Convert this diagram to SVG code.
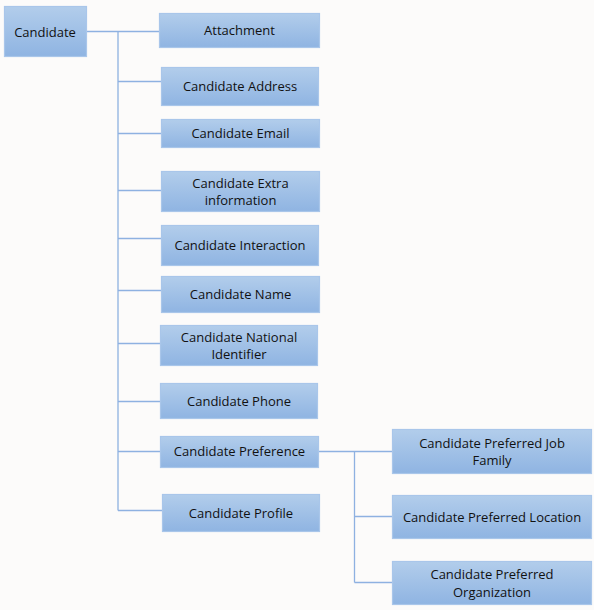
<svg xmlns="http://www.w3.org/2000/svg" width="594" height="610" viewBox="0 0 594 610">
<defs>
<linearGradient id="g" x1="0" y1="0" x2="0" y2="1">
<stop offset="0" stop-color="#b2cdeb"/>
<stop offset="1" stop-color="#8fb4e2"/>
</linearGradient>
<style>
.n rect{fill:url(#g);stroke:#a9c6ea;stroke-width:1.2}
.n text{font-family:"Open Sans","Noto Sans",sans-serif;font-size:13px;fill:#111;text-anchor:middle}
.c path{fill:none;stroke:#8eb1e1;stroke-width:1.3}
</style>
</defs>
<rect width="594" height="610" fill="#fcfbfa"/>
<g class="c">
<path d="M86 31.5H159M118 31.5V510.5M118 81.5H161M118 133.5H161M118 190.5H161M118 238.5H161M118 290.5H161M118 343.5H160M118 401.5H160M118 451.5H160M118 510.5H162"/>
<path d="M318 451.5H392M354.5 451.5V582.5M354.5 516.5H392M354.5 582.5H392"/>
</g>
<g class="n" id="candidate"><rect x="4.5" y="6.5" width="82" height="50"/><text x="45" y="36.5">Candidate</text></g>
<g class="n" id="attachment"><rect x="159.5" y="13.5" width="160" height="34"/><text x="239.5" y="35">Attachment</text></g>
<g class="n" id="address"><rect x="161.5" y="67.5" width="157" height="38"/><text x="240" y="91">Candidate Address</text></g>
<g class="n" id="email"><rect x="161.5" y="119.5" width="158" height="28"/><text x="240.5" y="138">Candidate Email</text></g>
<g class="n" id="extra"><rect x="161.5" y="171.5" width="158" height="40"/><text x="240.5" y="188">Candidate Extra</text><text x="240.5" y="205">information</text></g>
<g class="n" id="interaction"><rect x="161.5" y="225.5" width="157" height="40"/><text x="240" y="250">Candidate Interaction</text></g>
<g class="n" id="name"><rect x="161.5" y="276.5" width="158" height="36"/><text x="240.5" y="299">Candidate Name</text></g>
<g class="n" id="national"><rect x="160.5" y="325.5" width="157" height="40"/><text x="239" y="342">Candidate National</text><text x="239" y="359">Identifier</text></g>
<g class="n" id="phone"><rect x="160.5" y="383.5" width="157" height="35"/><text x="239" y="406">Candidate Phone</text></g>
<g class="n" id="preference"><rect x="160.5" y="436.5" width="158" height="31"/><text x="239.5" y="456">Candidate Preference</text></g>
<g class="n" id="profile"><rect x="162.5" y="494.5" width="157" height="37"/><text x="241" y="517.5">Candidate Profile</text></g>
<g class="n" id="jobfamily"><rect x="392.5" y="429.5" width="199" height="44"/><text x="492" y="447.5">Candidate Preferred Job</text><text x="492" y="465">Family</text></g>
<g class="n" id="location"><rect x="392.5" y="495.5" width="199" height="43"/><text x="492" y="522">Candidate Preferred Location</text></g>
<g class="n" id="organization"><rect x="392.5" y="561.5" width="199" height="43"/><text x="492" y="579">Candidate Preferred</text><text x="492" y="596.5">Organization</text></g>
</svg>
